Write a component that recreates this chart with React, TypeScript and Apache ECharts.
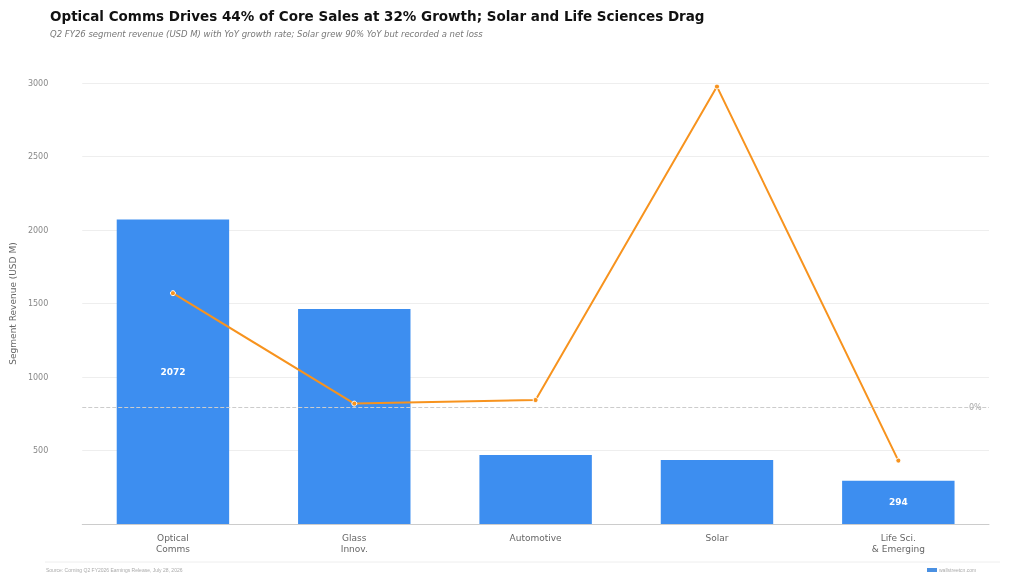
import React, { useEffect, useRef } from "react";
import * as echarts from "echarts";

const categories = ["Optical\nComms", "Glass\nInnov.", "Automotive", "Solar", "Life Sci.\n& Emerging"];
const revenue = [2072, 1463, 469, 435, 294];
const growth = [32, 1, 2, 90, -15];
const barLabelShown = [true, false, false, false, true];

export default function App() {
  const ref = useRef<HTMLDivElement>(null);
  useEffect(() => {
    const chart = echarts.init(ref.current!, null, { renderer: "svg" });
    chart.setOption({
      animation: false,
      textStyle: { fontFamily: "DejaVu Sans" },
      title: {
        text: "Optical Comms Drives 44% of Core Sales at 32% Growth; Solar and Life Sciences Drag",
        subtext: "Q2 FY26 segment revenue (USD M) with YoY growth rate; Solar grew 90% YoY but recorded a net loss",
        left: 45, top: 4,
        textStyle: { fontSize: 13.5, fontWeight: "bold", color: "#111" },
        subtextStyle: { fontSize: 8.5, fontStyle: "italic", color: "#777" },
        itemGap: 6,
      },
      graphic: [
        { type: "line", shape: { x1: 45, y1: 562, x2: 1000, y2: 562 }, style: { stroke: "#eee", lineWidth: 1 } },
        { type: "text", left: 46, top: 567, style: { text: "Source: Corning Q2 FY2026 Earnings Release, July 28, 2026", fontSize: 5, fill: "#aaa" } },
        { type: "rect", shape: { x: 927, y: 568, width: 10, height: 4 }, style: { fill: "#4a90e2" } },
        { type: "text", left: 939, top: 567, style: { text: "wallstreetcn.com", fontSize: 5, fill: "#aaa" } },
      ],
      grid: { left: 79, right: 35, top: 83, bottom: 55 },
      xAxis: {
        type: "category", data: categories,
        axisLine: { lineStyle: { color: "#ccc" } }, axisTick: { show: false },
        axisLabel: { color: "#666", fontSize: 9, margin: 8, lineHeight: 11 },
      },
      yAxis: [
        {
          type: "value", min: 0, max: 3000, interval: 500,
          name: "Segment Revenue (USD M)", nameLocation: "middle", nameGap: 64,
          nameTextStyle: { color: "#666", fontSize: 9 },
          axisLabel: { color: "#888", fontSize: 8, showMinLabel: false, formatter: (v: number) => String(v), margin: 34 },
          splitLine: { lineStyle: { color: "#eee" } },
        },
        { type: "value", min: -32.8, max: 91, show: false, splitLine: { show: false } },
      ],
      series: [
        {
          type: "line", yAxisIndex: 1, data: [], z: 1,
          markLine: {
            silent: true, symbol: "none",
            data: [{ yAxis: 0 }],
            lineStyle: { color: "#ccc", type: "dashed", width: 1 },
            label: { position: "end", formatter: "0%", color: "#aaa", fontSize: 8, distance: -20 },
          },
        },
        {
          type: "bar", z: 2, data: revenue.map((v, i) => ({
            value: v,
            label: { show: barLabelShown[i], position: "inside", color: "#fff", fontWeight: "bold", fontSize: 9 },
          })),
          barWidth: "62%", itemStyle: { color: "#3d8ef0" },
        },
        {
          type: "line", yAxisIndex: 1, data: growth, z: 3,
          lineStyle: { color: "#f7931e", width: 2 }, itemStyle: { color: "#f7931e", borderColor: "#fff", borderWidth: 1 },
          symbol: "circle", symbolSize: 5,
        },
      ],
    });
    return () => chart.dispose();
  }, []);
  return <div ref={ref} style={{ position: "fixed", left: 0, top: 0, width: 1024, height: 579 }} />;
}
